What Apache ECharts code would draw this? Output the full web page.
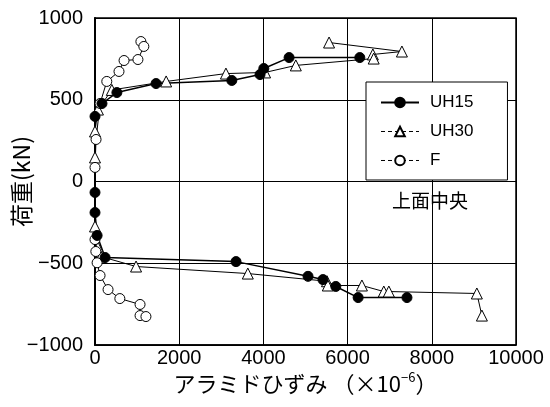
<!DOCTYPE html>
<html><head><meta charset="utf-8">
<script src="https://cdn.jsdelivr.net/npm/echarts@6/dist/echarts.min.js"></script>
<style>html,body{margin:0;padding:0;background:#fff}#c{width:550px;height:407px}</style>
</head><body><div id="c"></div>
<script>
var xTicks = [0, 2000, 4000, 6000, 8000, 10000];
var yTicks = [-1000, -500, 0, 500, 1000];
var seriesNames = ['UH15', 'UH30', 'F'];
var uh15Strain = [6290, 4610, 4010, 3920, 3250, 1450, 520, 166, 0, 0, 0, 50, 240, 3350, 5060, 5415, 5720, 6250, 7410];
var uh15Load   = [758, 758, 691, 654, 618, 599, 544, 477, 398, -67, -190, -330, -465, -490, -580, -600, -642, -710, -710];
var uh30Strain = [5560, 7290, 6600, 6620, 4770, 4040, 3110, 1690, 400, 70, 0, 0, 0, 70, 140, 975, 3630, 5510, 5530, 6340, 6860, 6980, 9070, 9190];
var uh30Load   = [850, 795, 777, 752, 710, 667, 660, 612, 560, 440, 306, 147, -275, -404, -459, -520, -563, -610, -636, -636, -673, -673, -685, -820];
var fStrain = [1090, 1160, 1020, 690, 570, 280, 120, 25, 0, 0, 20, 50, 120, 310, 590, 1070, 1070, 1210];
var fLoad   = [856, 826, 746, 740, 673, 612, 477, 257, 86, -355, -428, -497, -575, -661, -716, -752, -820, -826];
var annotation = '上面中央';

function pairs(xs, ys){ return xs.map(function(x,i){ return [x, ys[i]]; }); }
var FONT = 'Liberation Sans, "Noto Sans CJK JP", sans-serif';
var JFONT = '"Noto Sans CJK JP", sans-serif';
var chart = echarts.init(document.getElementById('c'), null, {renderer:'canvas'});
chart.setOption({
  animation: false,
  backgroundColor: '#fff',
  grid: {left: 95, top: 18, right: 34, bottom: 62, containLabel: false, outerBoundsMode: 'none',
    show: true, borderColor: '#000', borderWidth: 1.5, backgroundColor: 'transparent'},
  xAxis: {
    type: 'value', min: xTicks[0], max: xTicks[xTicks.length-1], interval: 2000,
    axisLine: {show: true, onZero: false, lineStyle: {color: '#000', width: 1.5}},
    axisTick: {show: false},
    splitLine: {show: true, lineStyle: {color: '#000', width: 1}},
    axisLabel: {color: '#000', fontSize: 20, fontFamily: FONT, margin: 3,
      formatter: function(v){ return String(v); }},
    name: 'アラミドひずみ （×10{sup|−6}）',
    nameLocation: 'middle', nameGap: 26, nameMoveOverlap: false,
    nameTextStyle: {color: '#000', fontSize: 22, fontFamily: JFONT,
      rich: {sup: {fontSize: 13, fontFamily: JFONT, color: '#000', padding: [0,0,12,0]}}}
  },
  yAxis: {
    type: 'value', min: yTicks[0], max: yTicks[yTicks.length-1], interval: 500,
    axisLine: {show: true, onZero: false, lineStyle: {color: '#000', width: 2}},
    axisTick: {show: false},
    splitLine: {show: true, lineStyle: {color: '#000', width: 1}},
    axisLabel: {color: '#000', fontSize: 20, fontFamily: FONT, margin: 12,
      formatter: function(v){ return String(v).replace('-', '−'); }},
    name: '荷重(kN)', nameLocation: 'middle', nameGap: 62, nameRotate: 90, nameMoveOverlap: false,
    nameTextStyle: {color: '#000', fontSize: 23, fontFamily: JFONT}
  },
  legend: {
    orient: 'vertical', left: 366, top: 82,
    backgroundColor: '#fff', borderColor: '#000', borderWidth: 1,
    padding: [12, 34, 11, 14], itemWidth: 38, itemHeight: 12, itemGap: 12,
    textStyle: {color: '#000', fontSize: 17, fontFamily: FONT, padding: [0,0,0,6]},
    data: [
      {name: seriesNames[0]},
      {name: seriesNames[1], lineStyle: {type: [4,3], width: 1}},
      {name: seriesNames[2], lineStyle: {type: [4,3], width: 1}}
    ]
  },
  graphic: [{type: 'text', left: 392, top: 191, style: {text: annotation, fill: '#000', font: '19px "Noto Sans CJK JP", sans-serif'}}],
  series: [
    {name: seriesNames[1], type: 'line', data: pairs(uh30Strain, uh30Load),
      symbol: 'triangle', symbolSize: 11, showAllSymbol: true,
      lineStyle: {color: '#000', width: 1}, itemStyle: {color: '#fff', borderColor: '#000', borderWidth: 1}},
    {name: seriesNames[2], type: 'line', data: pairs(fStrain, fLoad),
      symbol: 'circle', symbolSize: 10, showAllSymbol: true,
      lineStyle: {color: '#000', width: 1}, itemStyle: {color: '#fff', borderColor: '#000', borderWidth: 1}},
    {name: seriesNames[0], type: 'line', data: pairs(uh15Strain, uh15Load),
      symbol: 'circle', symbolSize: 10, showAllSymbol: true,
      lineStyle: {color: '#000', width: 1.5}, itemStyle: {color: '#000', borderColor: '#000', borderWidth: 1}}
  ]
});
</script></body></html>
